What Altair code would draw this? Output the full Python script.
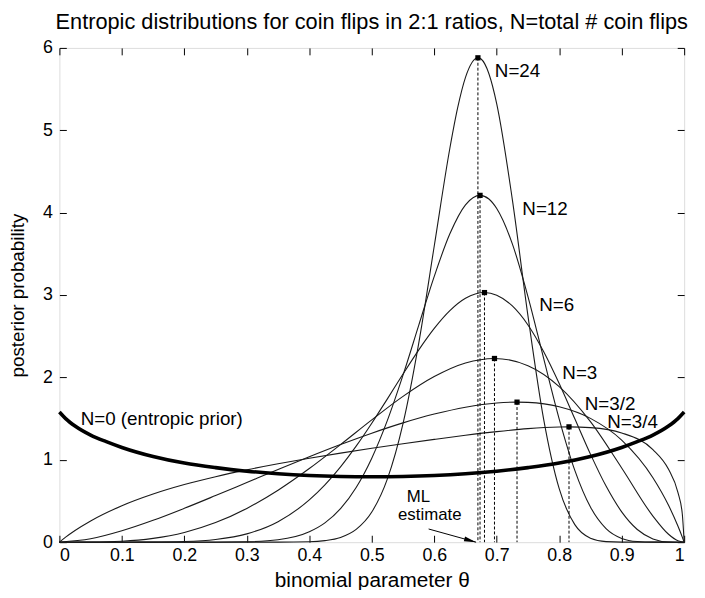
import altair as alt
import pandas as pd

# ---------------- data ----------------
prior_theta = [0, 0.01, 0.025, 0.05, 0.075, 0.1, 0.15, 0.2, 0.25, 0.3, 0.35, 0.4, 0.45, 0.5,
               0.55, 0.6, 0.65, 0.7, 0.75, 0.8, 0.85, 0.9, 0.925, 0.95, 0.975, 0.99, 1]
prior_p = [1.58, 1.50, 1.41, 1.30, 1.22, 1.15, 1.04, 0.96, 0.905, 0.862, 0.831, 0.81, 0.798, 0.794,
           0.798, 0.81, 0.831, 0.862, 0.905, 0.96, 1.04, 1.15, 1.22, 1.30, 1.41, 1.50, 1.58]

n34_theta = [0, 0.01, 0.025, 0.05, 0.1, 0.15, 0.2, 0.25, 0.3, 0.35, 0.4, 0.45, 0.5, 0.55, 0.6, 0.65,
             0.7, 0.75, 0.8, 0.8157, 0.85, 0.9, 0.95, 0.975, 0.99, 0.997, 1]
n34_p = [0, 0.061, 0.142, 0.258, 0.442, 0.584, 0.699, 0.795, 0.878, 0.952, 1.019, 1.081, 1.140, 1.195,
         1.248, 1.298, 1.342, 1.378, 1.398, 1.40, 1.391, 1.326, 1.123, 0.884, 0.604, 0.345, 0]

n32_theta = [0, 0.05, 0.1, 0.15, 0.2, 0.25, 0.3, 0.35, 0.4, 0.45, 0.5, 0.55, 0.6, 0.65, 0.7, 0.7325,
             0.75, 0.8, 0.85, 0.9, 0.95, 0.975, 0.99, 0.997, 1]
n32_p = [0, 0.041, 0.138, 0.265, 0.411, 0.566, 0.724, 0.882, 1.037, 1.185, 1.323, 1.448, 1.555, 1.639,
         1.690, 1.70, 1.697, 1.643, 1.503, 1.239, 0.783, 0.448, 0.196, 0.062, 0]

n3_theta = [0, 0.05, 0.1, 0.15, 0.2, 0.25, 0.3, 0.35, 0.4, 0.45, 0.5, 0.55, 0.6, 0.65, 0.6964,
            0.75, 0.8, 0.85, 0.9, 0.95, 0.975, 0.99, 1]
n3_p = [0, 0.001, 0.011, 0.046, 0.118, 0.238, 0.410, 0.631, 0.894, 1.185, 1.485, 1.770, 2.010, 2.175,
        2.23, 2.142, 1.888, 1.463, 0.901, 0.317, 0.096, 0.017, 0]

n6_theta = [0, 0.1, 0.15, 0.2, 0.25, 0.3, 0.35, 0.4, 0.425, 0.45, 0.475, 0.5, 0.525, 0.55, 0.575, 0.6,
            0.625, 0.65, 0.6804, 0.7, 0.725, 0.75, 0.775, 0.8, 0.825, 0.85, 0.875, 0.9, 0.925, 0.95,
            0.975, 1]
n6_p = [0, 0, 0.001, 0.0075, 0.033, 0.101, 0.249, 0.513, 0.696, 0.915, 1.166, 1.444, 1.740, 2.041,
        2.332, 2.595, 2.811, 2.961, 3.03, 2.999, 2.868, 2.637, 2.315, 1.926, 1.498, 1.069, 0.681,
        0.368, 0.154, 0.040, 0.003, 0]

n12_theta = [0, 0.25, 0.3, 0.35, 0.4, 0.425, 0.45, 0.475, 0.5, 0.525, 0.55, 0.575, 0.6, 0.625, 0.65,
             0.6733, 0.6875, 0.7, 0.725, 0.75, 0.775, 0.8, 0.825, 0.85, 0.875, 0.9, 0.925, 0.95, 1]
n12_p = [0, 0, 0.005, 0.029, 0.126, 0.234, 0.407, 0.664, 1.020, 1.478, 2.027, 2.629, 3.227, 3.743,
         4.095, 4.21, 4.166, 4.050, 3.621, 2.982, 2.234, 1.495, 0.872, 0.427, 0.165, 0.046, 0.008,
         0.001, 0]

n24_theta = [0, 0.35, 0.4, 0.425, 0.45, 0.475, 0.5, 0.525, 0.55, 0.575, 0.6, 0.625, 0.6375, 0.65,
             0.6699, 0.675, 0.6875, 0.7, 0.725, 0.75, 0.775, 0.8, 0.825, 0.85, 0.875, 0.9, 1]
n24_p = [0, 0.001, 0.005, 0.019, 0.058, 0.155, 0.366, 0.769, 1.440, 2.408, 3.595, 4.782, 5.274, 5.642,
         5.88, 5.865, 5.687, 5.322, 4.159, 2.748, 1.497, 0.649, 0.213, 0.049, 0.007, 0.001, 0]

peak_theta = [0.6699, 0.6733, 0.6804, 0.6964, 0.7325, 0.8157]
peak_p = [5.88, 4.21, 3.03, 2.23, 1.70, 1.40]

label_text = ["N=24", "N=12", "N=6", "N=3", "N=3/2", "N=3/4", "N=0 (entropic prior)"]
label_theta = [0.697, 0.741, 0.768, 0.805, 0.841, 0.877, 0.034]
label_p = [5.72, 4.04, 2.88, 2.05, 1.68, 1.46, 1.50]

ml_text = ["ML", "estimate"]
ml_theta = [0.556, 0.542]
ml_p = [0.55, 0.33]

arrow_theta = [0.591, 0.667]
arrow_p = [0.16, 0.0]

x_ticks = [0, 0.1, 0.2, 0.3, 0.4, 0.5, 0.6, 0.7, 0.8, 0.9, 1]
y_ticks = [0, 1, 2, 3, 4, 5, 6]

# ---------------- tables ----------------
curves = [("N=3/4", n34_theta, n34_p), ("N=3/2", n32_theta, n32_p), ("N=3", n3_theta, n3_p),
          ("N=6", n6_theta, n6_p), ("N=12", n12_theta, n12_p), ("N=24", n24_theta, n24_p)]
rows = []
for name, th, ps in curves:
    rows += [{"series": name, "theta": t, "p": v} for t, v in zip(th, ps)]
curve_df = pd.DataFrame(rows)
prior_df = pd.DataFrame({"theta": prior_theta, "p": prior_p})
peak_df = pd.DataFrame({"theta": peak_theta, "p": peak_p})
label_df = pd.DataFrame({"theta": label_theta, "p": label_p, "text": label_text})
ml_df = pd.DataFrame({"theta": ml_theta, "p": ml_p, "text": ml_text})
arrow_df = pd.DataFrame({"theta": arrow_theta, "p": arrow_p})
head_df = arrow_df.iloc[[1]]

FONT = "Liberation Sans"
xs = alt.Scale(domain=[0, 1], nice=False, zero=False)
ys = alt.Scale(domain=[0, 6], nice=False)

x_main = alt.X("theta:Q", scale=xs, title="binomial parameter θ",
               axis=alt.Axis(values=x_ticks, format="~g", orient="bottom", offset=-7, tickSize=7,
                             domain=False, grid=False, tickColor="black", labelPadding=5,
                             labelFontSize=18, labelFont=FONT, labelColor="black",
                             titleFontSize=21, titleFont=FONT, titleFontWeight="normal",
                             titleColor="black", titlePadding=5))
y_main = alt.Y("p:Q", scale=ys, title="posterior probability",
               axis=alt.Axis(values=y_ticks, orient="left", offset=-7, tickSize=7, domain=False,
                             grid=False, tickColor="black", labelPadding=7, labelFontSize=18,
                             labelFont=FONT, labelColor="black", titleFontSize=19, titleFont=FONT,
                             titleFontWeight="normal", titleColor="black", titlePadding=15))
x_top = alt.X("theta:Q", scale=xs,
              axis=alt.Axis(values=x_ticks, orient="top", offset=-7, tickSize=7, domain=False,
                            grid=False, labels=False, title=None, tickColor="black"))
y_right = alt.Y("p:Q", scale=ys,
                axis=alt.Axis(values=y_ticks, orient="right", offset=-7, tickSize=7, domain=False,
                              grid=False, labels=False, title=None, tickColor="black"))
x_n = alt.X("theta:Q", scale=xs, axis=None)
y_n = alt.Y("p:Q", scale=ys, axis=None)

curve_layer = alt.Chart(curve_df).mark_line(color="#1a1a1a", strokeWidth=1.1, interpolate="monotone").encode(
    x=x_main, y=y_main, detail="series:N")
frame_layer = alt.Chart(peak_df).mark_point(opacity=0).encode(x=x_top, y=y_right)
prior_layer = alt.Chart(prior_df).mark_line(color="black", strokeWidth=3.6, interpolate="monotone").encode(
    x=x_n, y=y_n)
rule_layer = alt.Chart(peak_df).mark_rule(color="black", strokeWidth=1, strokeDash=[3, 2]).encode(
    x=x_n, y=y_n, y2=alt.datum(0))
peak_layer = alt.Chart(peak_df).mark_point(shape="square", filled=True, size=28, color="black",
                                           opacity=1).encode(x=x_n, y=y_n)
text_layer = alt.Chart(label_df).mark_text(align="left", baseline="middle", fontSize=19, font=FONT,
                                           color="black").encode(x=x_n, y=y_n, text="text:N")
ml_layer = alt.Chart(ml_df).mark_text(align="left", baseline="middle", fontSize=17, font=FONT,
                                      color="black").encode(x=x_n, y=y_n, text="text:N")
arrow_layer = alt.Chart(arrow_df).mark_line(color="black", strokeWidth=1).encode(x=x_n, y=y_n)
head_layer = alt.Chart(head_df).mark_point(shape="M0,0L-2,-0.4L-2,0.4Z", filled=True, size=150,
                                           color="black", opacity=1, angle=15.5).encode(x=x_n, y=y_n)

chart = alt.layer(curve_layer, frame_layer, rule_layer, prior_layer, peak_layer, text_layer,
                  ml_layer, arrow_layer, head_layer).resolve_axis(x="independent", y="independent").properties(
    width=632, height=500,
    title=alt.TitleParams("Entropic distributions for coin flips in 2:1 ratios, N=total # coin flips",
                          fontSize=22, font=FONT, fontWeight="normal", color="black",
                          anchor="middle", offset=5),
    padding={"left": 52, "top": 37, "right": 13, "bottom": 45},
    autosize=alt.AutoSizeParams(type="none"),
).configure_view(stroke="black", strokeWidth=1).configure(background="white")

chart.save("out.html", embed_options={"renderer": "svg", "actions": False})
